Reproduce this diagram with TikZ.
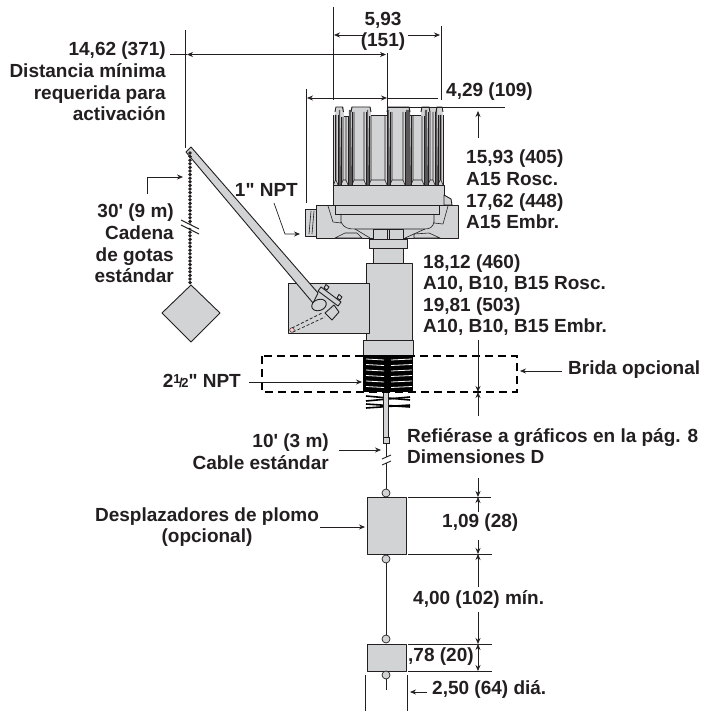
\documentclass[tikz,border=0pt]{standalone}
\usepackage{fontspec}
\newfontfamily\lblfont{Liberation Sans}
\usetikzlibrary{arrows.meta}
\definecolor{partgray}{HTML}{D1D3D4}
\definecolor{inkgray}{HTML}{231F20}
\tikzset{
  lbl/.style={font=\lblfont\fontsize{19}{21.6}\selectfont\bfseries, text=inkgray, inner sep=0pt},
  part/.style={draw=inkgray, fill=partgray, line width=0.9pt, line join=round},
  thin part/.style={draw=inkgray, line width=0.6pt},
  dimline/.style={draw=inkgray, line width=0.7pt},
  dimarrow/.style={dimline, -{Stealth[length=6pt,width=5pt]}},
  dimboth/.style={dimline, {Stealth[length=6pt,width=5pt]}-{Stealth[length=6pt,width=5pt]}},
  ball/.style={part, line width=0.7pt}
}
\begin{document}
\begin{tikzpicture}[x=1pt, y=-1pt]
\useasboundingbox (0,0) rectangle (701,711);

% head
\fill[partgray] (333,185) -- (335,115) -- (337,107) -- (441,107) -- (443,115) -- (444,185) -- cycle;
\fill[white] (343.5,105) rectangle (351,116);
\fill[white] (371,105) rectangle (387,115);
\fill[white] (410,105) rectangle (421,115);
\draw[thin part] (343.5,116) -- (351,116) (371,115) -- (387,115) (410,115) -- (421,115);
\foreach \xa/\xb in {338/341, 348/352, 366/369, 387/390, 405/411, 424/428, 435/438}
    \fill[inkgray!75] (\xa,185) -- (\xa+1,110) -- (\xb-1,110) -- (\xb,185) -- cycle;
\foreach \xa/\xb in {335/343.5, 351/371, 387/410, 421/430, 436/443}
    \draw[thin part, line width=0.9pt] (\xa,112) -- (\xa+1,107) -- (\xb-1,107) -- (\xb,112);
\foreach \xa/\xb/\yt in {333.5/338/115, 341/348/117, 352/366/112, 369/387/116, 390/405/112, 411/424/116, 428/435/112, 438/443/115}{
    \fill[partgray] (\xa,185) -- (\xa,\yt) -- (\xb,\yt) -- (\xb,185) -- cycle;
    \draw[thin part] (\xa,\yt) -- (\xa,185) -- (\xb,185) -- (\xb,\yt);
    \draw[thin part] (\xa+2,\yt) -- (\xa+2,180) -- (\xb-2,180) -- (\xb-2,\yt) (\xa+2,180) -- (\xa,185) (\xb-2,180) -- (\xb,185);
}
\draw[part] (333,205) -- (333,185) -- (444,185) -- (444,205);
\draw[part] (444,195) -- (451,199) -- (452,205) -- (444,205) -- cycle;

% flange and fitting
\draw[part] (305,209) rectangle (316,236);
\foreach \xa in {309,312}
    \draw[thin part] (\xa+2,211) -- (\xa,234);
\draw[part] (316,205) rectangle (458,238);
\draw[thin part] (328,206) -- (333,222) -- (341,223) -- (341,214);
\draw[thin part] (448,206) -- (443,224) -- (434,223) -- (434,214);
\draw[thin part] (335,206) -- (335,214) -- (439,214) -- (439,206);
\draw[thin part] (341,222) .. controls (344,228) and (348,229) .. (355,229) -- (425,229) .. controls (430,229) and (433,227) .. (434,222);
\draw[part, line width=0.6pt] (335,238) -- (345,233) -- (357,233) -- (362,238) -- cycle;
\draw[part, line width=0.6pt] (414,238) -- (414,234) -- (429,233) -- (440,238) -- cycle;
\draw[thin part] (355,229) -- (370,238) (425,229) -- (405,238);

% neck and body
\draw[part] (373,229) rectangle (403,239);
\draw[thin part] (387,229) -- (387,239) (389,229) -- (389,239);
\draw[part] (369,239) rectangle (407,248);
\draw[part] (373,248) rectangle (403,263);
\draw[part] (366,263) rectangle (412,340);
\draw[part] (288,283) rectangle (369,333);
\draw[part] (363,340) rectangle (413,356);

% threads
\fill[black] (363,355) rectangle (413,392);
\foreach \ya in {360,365.5,...,390}{
    \draw[white, line width=0.8pt] (366,\ya-1) -- (384,\ya);
    \draw[white, line width=0.8pt] (391,\ya) -- (412,\ya-1);
}
\draw[black, line width=1.6pt] (366,396) -- (410,400);
\draw[black, line width=1.6pt] (366,401) -- (410,397);
\draw[black, line width=1.6pt] (366,404) -- (410,407);
\draw[black, line width=1.6pt] (366,408) -- (410,405);
\draw[thin part, fill=partgray] (383,392) rectangle (388,437);
\draw[thin part, fill=partgray] (383,437) rectangle (389,443);

% float arm and hinge
\draw[part] (191,147) -- (186,152) -- (313,303) -- (318,293) -- cycle;
\foreach \ya in {153,156.6,...,285}
    \fill[inkgray] (190,\ya) circle (1.9);
\draw[part] (191,285) -- (220,313) -- (191,342) -- (162,313) -- cycle;
\draw[part] (334,305) -- (325,313) -- (332,320) -- (339,312) -- cycle;
\draw[part] (318,291) -- (321,287) -- (341,302) -- (338,306) -- cycle;
\draw[part] (324,288) -- (326,284.5) -- (329,287) -- (327,290) -- cycle;
\draw[part] (337,298) -- (339,294.5) -- (342,297) -- (340,300) -- cycle;
\draw[part, rotate around={20:(319,305)}] (319,305) ellipse (7.5 and 5.5);
\draw[inkgray, line width=0.7pt, densely dashed] (292,328) -- (322,313) (293,332) -- (325,317);
\draw[inkgray, line width=0.5pt, fill=pink!70] (292,330) circle (2.3);

% cable, weights
\draw[inkgray, line width=0.9pt] (386,443) -- (386,489);
\draw[white, line width=3pt] (386,457) -- (386,463);
\draw[inkgray, line width=0.9pt] (382,459) -- (391,455) (382,465) -- (391,461);
\draw[white, line width=3.5pt] (186,224) -- (196,229);
\draw[inkgray, line width=0.9pt] (181,220) -- (199,229) (181,225) -- (199,234);
\draw[ball] (386,493) circle (4);
\draw[part] (367,497) rectangle (406,554);
\draw[inkgray, line width=0.9pt] (386,558) -- (386,639);
\draw[ball] (386,559) circle (4);
\draw[ball] (386,639) circle (4);
\draw[part] (367,644) rectangle (406,671);
\draw[inkgray, line width=0.9pt] (386,675) -- (386,690);
\draw[ball] (386,675) circle (4);

% optional flange outline
\draw[black, line width=1.8pt, dash pattern=on 8pt off 5pt] (262,356) rectangle (517,392);

% named points of the leaders
\coordinate (p1) at (185,148);  \coordinate (p2) at (185,30);
\coordinate (p3) at (170,54.5); \coordinate (p3a) at (187,54.5); \coordinate (p4) at (386,54.5);
\coordinate (p5) at (387,53);   \coordinate (p6) at (387,124);
\coordinate (p7) at (333,7);    \coordinate (p8) at (333,100);
\coordinate (p9) at (441,26);   \coordinate (p10) at (441,100);
\coordinate (p11) at (363,35);  \coordinate (p12) at (334,35);
\coordinate (p13) at (408,35);  \coordinate (p14) at (440,35);
\coordinate (p15) at (306,89);  \coordinate (p16) at (306,203);
\coordinate (p17) at (387,98);  \coordinate (p18) at (307,98);
\coordinate (p19) at (438,98);
\coordinate (p20) at (388,107); \coordinate (p21) at (505,107);
\coordinate (p22) at (478,138); \coordinate (p23) at (478,111);
\coordinate (p24) at (147,194); \coordinate (p25) at (147,177); \coordinate (p26) at (183,177);
\coordinate (p27) at (274,203); \coordinate (p28) at (285,234); \coordinate (p29) at (300,234);
\coordinate (p30) at (249,382); \coordinate (p31) at (362,382);
\coordinate (p32) at (562,371); \coordinate (p33) at (520,371);
\coordinate (p34) at (478,340); \coordinate (p35) at (478,392);
\coordinate (p36) at (478,416);
\coordinate (p37) at (339,450); \coordinate (p38) at (381,450);
\coordinate (p39) at (320,527); \coordinate (p40) at (365,527);
\coordinate (p41) at (478,478); \coordinate (p42) at (478,497);
\coordinate (p43) at (478,512); \coordinate (p44) at (478,540);
\coordinate (p45) at (478,554); \coordinate (p46) at (478,587);
\coordinate (p47) at (478,612); \coordinate (p48) at (478,644);
\coordinate (p49) at (478,671);
\coordinate (p50) at (408,497); \coordinate (p51) at (491,497);
\coordinate (p52) at (408,554); \coordinate (p53) at (492,554);
\coordinate (p54) at (408,644); \coordinate (p55) at (492,644);
\coordinate (p56) at (408,671); \coordinate (p57) at (492,671);
\coordinate (p58) at (427,692); \coordinate (p59) at (410,692);
\coordinate (p60) at (365,675); \coordinate (p61) at (365,711);
\coordinate (p62) at (407,675); \coordinate (p63) at (407,711);

% leaders
\draw[dimline] (p1) -- (p2);
\draw[dimline] (p3) -- (p3a);
\draw[dimboth] (p3a) -- (p4);
\draw[dimline] (p5) -- (p6);
\draw[dimline] (p7) -- (p8);
\draw[dimline] (p9) -- (p10);
\draw[dimarrow] (p11) -- (p12);
\draw[dimarrow] (p13) -- (p14);
\draw[dimline] (p15) -- (p16);
\draw[dimboth] (p17) -- (p18);
\draw[dimline] (p19) -- (p17);
\draw[dimline] (p20) -- (p21);
\draw[dimarrow] (p22) -- (p23);
\draw[dimarrow] (p24) -- (p25) -- (p26);
\draw[dimarrow] (p27) -- (p28) -- (p29);
\draw[dimarrow] (p30) -- (p31);
\draw[dimarrow] (p32) -- (p33);
\draw[dimarrow] (p34) -- (p35);
\draw[dimarrow] (p36) -- (p35);
\draw[dimarrow] (p37) -- (p38);
\draw[dimarrow] (p39) -- (p40);
\draw[dimarrow] (p41) -- (p42);
\draw[dimarrow] (p43) -- (p42);
\draw[dimarrow] (p44) -- (p45);
\draw[dimarrow] (p46) -- (p45);
\draw[dimarrow] (p47) -- (p48);
\draw[dimboth] (p48) -- (p49);
\draw[dimline] (p50) -- (p51);
\draw[dimline] (p52) -- (p53);
\draw[dimline] (p54) -- (p55);
\draw[dimline] (p56) -- (p57);
\draw[dimarrow] (p58) -- (p59);
\draw[dimline] (p60) -- (p61);
\draw[dimline] (p62) -- (p63);

% labels
\node[lbl, align=right, anchor=east] (reach) at (166,81.5) {14,62 (371)\\Distancia mínima\\requerida para\\activación};
\node[lbl, align=center] (width) at (383,31.5) {5,93\\(151)};
\node[lbl, anchor=west] (radius) at (446,92) {4,29 (109)};
\node[lbl, align=left, anchor=west] (height) at (466,189.5) {15,93 (405)\\A15 Rosc.\\17,62 (448)\\A15 Embr.};
\node[lbl, anchor=east] (npt) at (298,190) {1" NPT};
\node[lbl, align=right, anchor=east] (chain) at (174,243.5) {30' (9 m)\\Cadena\\de gotas\\estándar};
\node[lbl, align=left, anchor=west] (length) at (423,295) {18,12 (460)\\A10, B10, B15 Rosc.\\19,81 (503)\\A10, B10, B15 Embr.};
\node[lbl, anchor=east] (thread) at (241,381) {2\raisebox{4.5pt}{\fontsize{13}{13}\selectfont 1}\kern-1.5pt\fontsize{13}{13}\selectfont/\kern-1.5pt2\fontsize{19}{19}\selectfont" NPT};
\node[lbl, anchor=west] (flange) at (568,370) {Brida opcional};
\node[lbl, align=left, anchor=west] (graphs) at (407,446) {Refiérase a gráficos en la pág. 8\\Dimensiones D};
\node[lbl, align=right, anchor=east] (cable) at (329,452) {10' (3 m)\\Cable estándar};
\node[lbl, align=center] (lead) at (207,527) {Desplazadores de plomo\\(opcional)};
\node[lbl, anchor=west] (dimA) at (442,523) {1,09 (28)};
\node[lbl, anchor=west] (dimB) at (413,599) {4,00 (102) mín.};
\node[lbl, anchor=west] (dimC) at (408,657) {,78 (20)};
\node[lbl, anchor=west] (dimD) at (432,689) {2,50 (64) diá.};
\end{tikzpicture}
\end{document}
